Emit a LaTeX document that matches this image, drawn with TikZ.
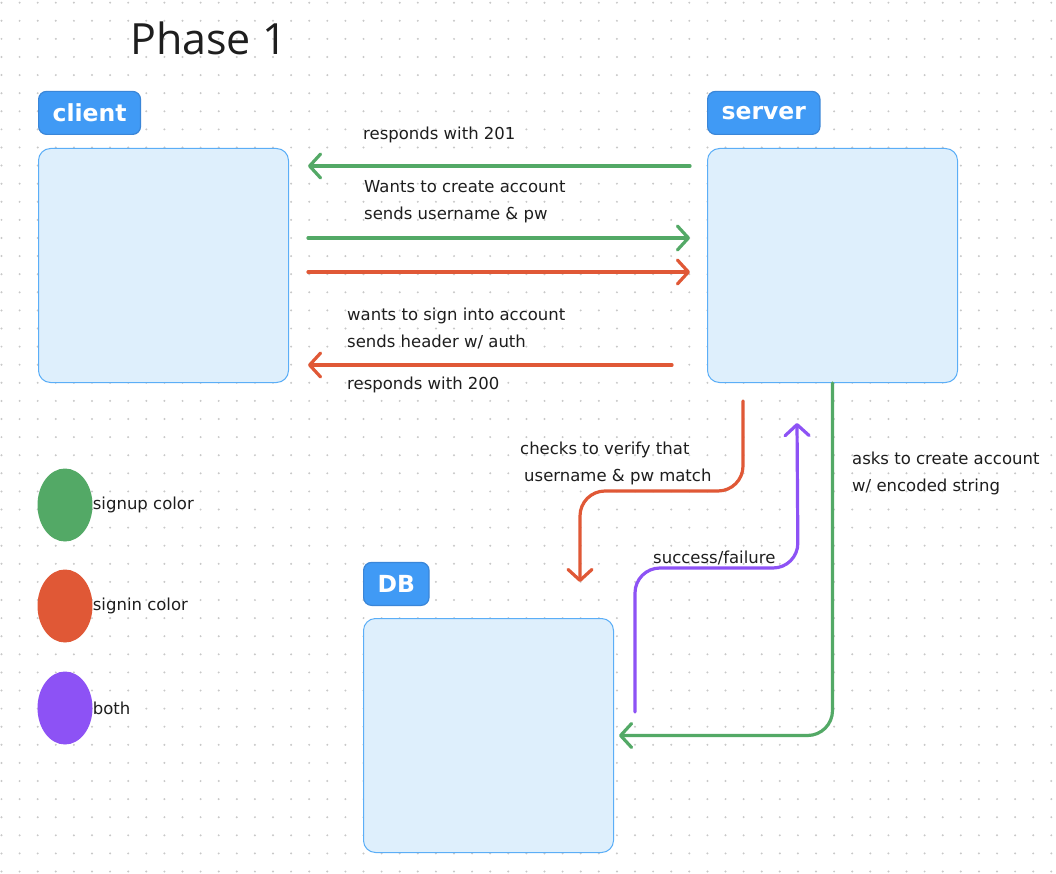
\documentclass[tikz,border=0pt]{standalone}
\usepackage{fontspec}
\setmainfont{DejaVu Sans}
\newfontfamily\titlefont{Open Sans}
\usepackage{xcolor}
\usepackage{tikz}
\usetikzlibrary{shapes.geometric,arrows.meta,positioning}

\definecolor{signupgreen}{HTML}{53A966}
\definecolor{signinred}{HTML}{E05836}
\definecolor{bothpurple}{HTML}{8D52F5}
\definecolor{tagblue}{HTML}{409AF5}
\definecolor{tagborder}{HTML}{3A86D8}
\definecolor{boxfill}{HTML}{DEEFFC}
\definecolor{boxborder}{HTML}{5BAEF7}
\definecolor{inkdark}{HTML}{1E1E1E}
\definecolor{dotgray}{HTML}{C8C8C8}

\tikzset{
    tag/.style={
        fill=tagblue,
        draw=tagborder,
        line width=1.2pt,
        rounded corners=8pt,
        text=white,
        font=\fontsize{23.5}{28}\selectfont\bfseries,
        inner xsep=14pt,
        inner ysep=0pt,
        minimum height=43pt,
        anchor=south west
    },
    panel/.style={
        fill=boxfill,
        draw=boxborder,
        line width=1pt,
        rounded corners=12pt,
        minimum width=250pt,
        minimum height=234pt,
        inner sep=0pt,
        anchor=north west
    },
    note/.style={
        text=inkdark,
        font=\fontsize{16.5}{26.7}\selectfont,
        align=left,
        inner sep=0pt,
        anchor=base west
    },
    flow/.style={
        line width=3.2pt,
        line cap=round,
        line join=round,
        rounded corners=25pt,
        -{Straight Barb[length=11pt,width=24pt,round]}
    },
    swatch/.style={
        ellipse,
        minimum width=55pt,
        minimum height=73pt,
        inner sep=0pt
    }
}

\begin{document}
\begin{tikzpicture}[x=1pt,y=-1pt]
    \useasboundingbox (0,0) rectangle (1056,874);
    \fill[white] (0,0) rectangle (1056,874);

    % dotted canvas
    \foreach \i in {0,...,58}
        \foreach \j in {0,...,48}
            \fill[dotgray] (1.5+18.1*\i,2.7+18.1*\j) circle (1.1pt);

    \node[
        font=\titlefont\fontsize{43}{50}\selectfont,
        text=inkdark,
        inner sep=0pt,
        anchor=west
    ] (title) at (130,38) {Phase 1};

    % boxes
    \node[panel] (client) at (38,148) {};
    \node[panel] (server) at (707,148) {};
    \node[panel] (DB) at (363,618) {};

    \node[tag] (clienttag) at ([yshift=13pt]client.north west) {client};
    \node[tag] (servertag) at ([yshift=13pt]server.north west) {server};
    \node[tag] (DBtag) at ([yshift=12pt]DB.north west) {DB};

    % client <-> server
    \draw[flow, signupgreen] ([xshift=-17pt,yshift=-18pt]server.north west) -- ([xshift=19pt,yshift=-18pt]client.north east);
    \draw[flow, signupgreen] ([xshift=19pt,yshift=-90pt]client.north east) -- ([xshift=-17pt,yshift=-90pt]server.north west);
    \draw[flow, signinred] ([xshift=19pt,yshift=-124pt]client.north east) -- ([xshift=-17pt,yshift=-124pt]server.north west);
    \draw[flow, signinred] ([xshift=-35pt,yshift=-217pt]server.north west) -- ([xshift=19pt,yshift=-217pt]client.north east);

    % (multi-line notes sit on the baseline of their last line)
    \node[note] (resp201) at (363,140) {responds with 201};
    \node[note] (wants) at (364,219.5) {Wants to create account\\sends username \& pw};
    \node[note] (signin) at (347,347) {wants to sign into account\\sends header w/ auth};
    \node[note] (resp200) at (347,389.5) {responds with 200};

    % server <-> DB
    \draw[flow, signinred] ([xshift=36pt,yshift=-18pt]server.south west) -- ++(0,90) -- ++(-163,0) -- ([xshift=217pt,yshift=36pt]DB.north west);
    \draw[flow, bothpurple] ([xshift=21pt,yshift=-94pt]DB.north east) -- ++(0,-144) -- ++(163,0) -- ([xshift=90pt,yshift=-40pt]server.south west);
    \draw[flow, signupgreen] (server.south) |- ([xshift=5pt]DB.east);

    \node[note] (checks) at (520,481.2) {checks to verify that\\\hspace*{4pt}username \& pw match};
    \node[note] (result) at (653,563.5) {success/failure};
    \node[note] (asks) at (852,491.5) {asks to create account\\w/ encoded string};

    % legend
    \node[swatch, fill=signupgreen] (signupkey) at (65,505) {};
    \node[swatch, fill=signinred] (signinkey) at (65,606) {};
    \node[swatch, fill=bothpurple] (bothkey) at (65,708) {};
    \node[note, anchor=west, right=0pt of signupkey] {signup color};
    \node[note, anchor=west, right=0pt of signinkey] {signin color};
    \node[note, anchor=west, right=0pt of bothkey] {both};

\end{tikzpicture}
\end{document}
